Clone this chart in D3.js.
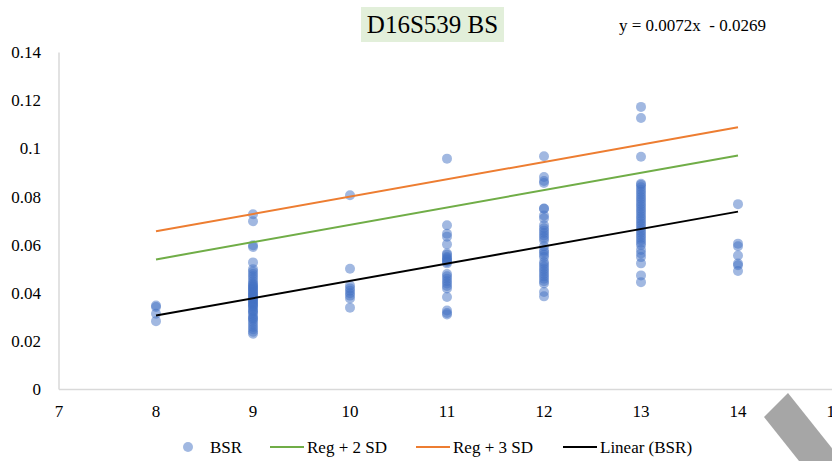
<!DOCTYPE html>
<html>
<head>
<meta charset="utf-8">
<script src="https://d3js.org/d3.v7.min.js"></script>
<style>
  body { margin: 0; background: #fff; font-family: 'Liberation Serif'; }
  svg { display: block; }
  text { font-family: 'Liberation Serif'; }
</style>
</head>
<body>
<svg width="832" height="461"></svg>
<script>
// allele (x) and BSR values
const alleles = [8, 9, 10, 11, 12, 13, 14];
const bsr8  = [0.0349, 0.0343, 0.0315, 0.0284];
const bsr9  = [0.0728, 0.0699, 0.0599, 0.0592, 0.0528, 0.050, 0.049, 0.048, 0.047, 0.046,
               0.045, 0.044, 0.0435, 0.043, 0.0425, 0.042, 0.0415, 0.041, 0.0405, 0.040,
               0.0395, 0.039, 0.0385, 0.038, 0.0375, 0.037, 0.0365, 0.036, 0.0355, 0.035,
               0.0345, 0.034, 0.033, 0.0325, 0.032, 0.031, 0.030, 0.0295, 0.029, 0.028,
               0.027, 0.026, 0.025, 0.024, 0.0232];
const bsr10 = [0.0807, 0.0502, 0.0432, 0.042, 0.041, 0.040, 0.039, 0.0378, 0.034];
const bsr11 = [0.0959, 0.0682, 0.0647, 0.0635, 0.0603, 0.0565, 0.056, 0.055, 0.0545, 0.054,
               0.0535, 0.053, 0.0524, 0.048, 0.047, 0.046, 0.045, 0.044, 0.043, 0.042,
               0.0384, 0.0328, 0.0318, 0.0312];
const bsr12 = [0.0969, 0.0883, 0.0866, 0.0858, 0.0751, 0.0752, 0.0723, 0.0711, 0.0682, 0.067,
               0.066, 0.065, 0.064, 0.063, 0.062, 0.0595, 0.0578, 0.057, 0.056, 0.055,
               0.053, 0.052, 0.051, 0.050, 0.049, 0.048, 0.047, 0.046, 0.045, 0.044,
               0.0405, 0.0387];
const bsr13 = [0.1174, 0.1128, 0.0967, 0.0855, 0.085, 0.084, 0.083, 0.082, 0.081, 0.080,
               0.079, 0.078, 0.077, 0.076, 0.075, 0.074, 0.073, 0.072, 0.071, 0.070,
               0.069, 0.068, 0.067, 0.066, 0.065, 0.064, 0.063, 0.062, 0.061, 0.060,
               0.058, 0.0565, 0.055, 0.0524, 0.0474, 0.0446];
const bsr14 = [0.0770, 0.0606, 0.0595, 0.0557, 0.0523, 0.0516, 0.0492];
const bsrByAllele = [bsr8, bsr9, bsr10, bsr11, bsr12, bsr13, bsr14];

// trend line from the equation shown, sd from the offset lines
const slope = 0.0072, intercept = -0.0269, sd = 0.01167;
const lineX = [8, 14];

const xTicks = [7, 8, 9, 10, 11, 12, 13, 14, 15];
const yTicks = [0, 0.02, 0.04, 0.06, 0.08, 0.1, 0.12, 0.14];
const legendNames = ["BSR", "Reg + 2 SD", "Reg + 3 SD", "Linear (BSR)"];

const points = [];
alleles.forEach((a, i) => bsrByAllele[i].forEach(v => points.push({x: a, y: v})));

const lines = [
  {name: "Reg + 2 SD", off: 2 * sd, color: "#70ad47"},
  {name: "Reg + 3 SD", off: 3 * sd, color: "#ed7d31"},
  {name: "Linear (BSR)", off: 0, color: "#000"}
];

const svg = d3.select("svg");
const x = d3.scaleLinear().domain([7, 16]).range([59, 932]);
const y = d3.scaleLinear().domain([0, 0.14]).range([389.5, 52.5]);

// axes lines
svg.append("line").attr("x1", x(7)).attr("x2", 832).attr("y1", y(0)).attr("y2", y(0))
  .attr("stroke", "#d9d9d9").attr("stroke-width", 1.5);
svg.append("line").attr("x1", x(7)).attr("x2", x(7)).attr("y1", y(0)).attr("y2", y(0.14))
  .attr("stroke", "#d9d9d9").attr("stroke-width", 1.5);

svg.append("g").selectAll("text").data(yTicks).enter().append("text")
  .attr("x", 41).attr("y", d => y(d)).attr("dy", "0.33em")
  .attr("text-anchor", "end").attr("font-size", 17)
  .text(d => d3.format("~g")(d));

svg.append("g").selectAll("text").data(xTicks).enter().append("text")
  .attr("x", d => x(d)).attr("y", 417)
  .attr("text-anchor", "middle").attr("font-size", 17)
  .text(d => d);

// points
svg.append("g").selectAll("circle").data(points).enter().append("circle")
  .attr("cx", d => x(d.x)).attr("cy", d => y(d.y)).attr("r", 5)
  .attr("fill", "#4472c4").attr("fill-opacity", 0.5);

// lines
svg.append("g").selectAll("line").data(lines).enter().append("line")
  .attr("x1", x(lineX[0])).attr("x2", x(lineX[1]))
  .attr("y1", d => y(slope * lineX[0] + intercept + d.off))
  .attr("y2", d => y(slope * lineX[1] + intercept + d.off))
  .attr("stroke", d => d.color).attr("stroke-width", 2);

// title
svg.append("rect").attr("x", 361).attr("y", 7).attr("width", 143).attr("height", 35)
  .attr("fill", "#e2efda");
svg.append("text").attr("x", 432.5).attr("y", 33).attr("text-anchor", "middle")
  .attr("font-size", 25).text("D16S539 BS");

svg.append("text").attr("x", 619).attr("y", 31).attr("font-size", 17)
  .style("white-space", "pre").text("y = 0.0072x  - 0.0269");

// legend
const lg = svg.append("g");
lg.append("circle").attr("cx", 188).attr("cy", 447).attr("r", 5)
  .attr("fill", "#4472c4").attr("fill-opacity", 0.5);
lg.append("text").attr("x", 210).attr("y", 453).attr("font-size", 17).text(legendNames[0]);
const lgX = [270, 416, 563];
lines.forEach((l, i) => {
  lg.append("line").attr("x1", lgX[i]).attr("x2", lgX[i] + 34).attr("y1", 447).attr("y2", 447)
    .attr("stroke", l.color).attr("stroke-width", 2);
  lg.append("text").attr("x", lgX[i] + 37).attr("y", 453).attr("font-size", 17)
    .text(legendNames[i + 1]);
});

// grey stroke overlay in the corner
svg.append("polygon")
  .attr("points", "788,393 764,417 834,505 858,481")
  .attr("fill", "#a6a6a6");
</script>
</body>
</html>
